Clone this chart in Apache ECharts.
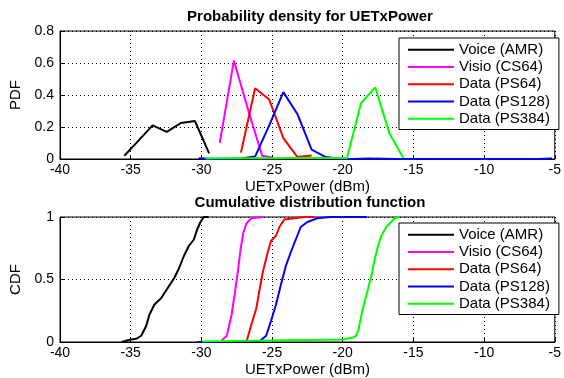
<!DOCTYPE html>
<html>
<head>
<meta charset="utf-8">
<script src="https://cdn.jsdelivr.net/npm/echarts@6/dist/echarts.min.js"></script>
<style>
html,body{margin:0;padding:0;background:#fff;}
#c{width:564px;height:378px;}
</style>
</head>
<body>
<div id="c"></div>
<script>
// ---------- data ----------
var seriesNames = ['Voice (AMR)', 'Visio (CS64)', 'Data (PS64)', 'Data (PS128)', 'Data (PS384)'];
var xTicks = [-40, -35, -30, -25, -20, -15, -10, -5];

// PDF curves
var pdfVoiceX = [-35.45, -34.45, -33.45, -32.45, -31.45, -30.45, -29.45];
var pdfVoiceY = [0.02, 0.115, 0.21, 0.17, 0.225, 0.237, 0.035];
var pdfVisioX = [-28.7, -27.7, -26.7, -25.7, -25.0];
var pdfVisioY = [0.10, 0.615, 0.31, 0.02, 0.01];
var pdfPs64X = [-27.2, -26.2, -25.2, -24.2, -23.2, -22.2];
var pdfPs64Y = [0.04, 0.442, 0.372, 0.13, 0.012, 0.022];
var pdfPs128X = [-30.2, -29.2, -28.2, -27.2, -26.2, -25.2, -24.2, -23.2, -22.2, -21.2, -20.2, -19.2, -18.2, -17.2, -16.2, -15.2, -14.2, -13.2, -12.2, -11.2, -10.2, -9.2, -8.2, -7.2, -6.2, -5.2];
var pdfPs128Y = [0.004, 0.0, 0.0, 0.003, 0.015, 0.21, 0.418, 0.28, 0.058, 0.012, 0.001, 0.0, 0.003, 0.002, 0.0, 0.0, 0.0, 0.0, 0.0, 0.0, 0.0, 0.0, 0.0, 0.0, 0.0, 0.003];
var pdfPs384X = [-29.7, -28.7, -27.7, -26.7, -25.7, -24.7, -23.7, -22.7, -21.7, -20.7, -19.7, -18.7, -17.7, -16.7, -15.7];
var pdfPs384Y = [0.003, 0.004, 0.004, 0.005, 0.005, 0.005, 0.006, 0.006, 0.006, 0.007, 0.006, 0.35, 0.448, 0.16, 0.004];

// CDF curves
var cdfVoiceX = [-35.65, -35.07, -34.6, -34.25, -33.9, -33.67, -33.32, -32.85, -32.39, -31.93, -31.58, -31.23, -30.88, -30.53, -30.3, -30.06, -29.83, -29.5];
var cdfVoiceY = [0, 0.018, 0.026, 0.05, 0.13, 0.22, 0.30, 0.35, 0.43, 0.51, 0.59, 0.69, 0.77, 0.82, 0.90, 0.96, 1.0, 1.0];
var cdfVisioX = [-28.56, -28.2, -27.86, -27.62, -27.39, -27.23, -27.04, -26.81, -26.46, -25.65];
var cdfVisioY = [0.013, 0.05, 0.22, 0.40, 0.59, 0.74, 0.87, 0.95, 0.99, 1.0];
var cdfPs64X = [-26.8, -26.75, -26.46, -26.11, -25.88, -25.65, -25.3, -25.07, -24.72, -24.48, -24.13, -23.43, -22.74, -22.0];
var cdfPs64Y = [0, 0.026, 0.14, 0.27, 0.42, 0.56, 0.72, 0.81, 0.85, 0.92, 0.98, 0.99, 1.0, 1.0];
var cdfPs128X = [-30.3, -28.0, -25.88, -25.42, -25.07, -24.72, -24.37, -24.02, -23.67, -23.32, -22.97, -22.5, -21.8, -20.88, -18.3];
var cdfPs128Y = [0.0, 0.003, 0.006, 0.05, 0.17, 0.30, 0.46, 0.61, 0.72, 0.82, 0.92, 0.96, 0.99, 1.0, 1.0];
var cdfPs384X = [-29.95, -25.0, -19.94, -19.13, -18.9, -18.67, -18.44, -18.2, -17.97, -17.74, -17.5, -17.27, -16.92, -16.57, -16.34, -16.0];
var cdfPs384Y = [0.005, 0.012, 0.02, 0.04, 0.09, 0.22, 0.33, 0.43, 0.53, 0.66, 0.77, 0.85, 0.92, 0.96, 0.99, 1.0];

var colors = ['#000000', '#ff00ff', '#ff0000', '#0000ff', '#00ff00'];

// ---------- build ----------
function pairs(xs, ys) { return xs.map(function (x, i) { return [x, ys[i]]; }); }
var pdfSets = [[pdfVoiceX, pdfVoiceY], [pdfVisioX, pdfVisioY], [pdfPs64X, pdfPs64Y], [pdfPs128X, pdfPs128Y], [pdfPs384X, pdfPs384Y]];
var cdfSets = [[cdfVoiceX, cdfVoiceY], [cdfVisioX, cdfVisioY], [cdfPs64X, cdfPs64Y], [cdfPs128X, cdfPs128Y], [cdfPs384X, cdfPs384Y]];

var FONT = "'Liberation Sans', Arial, sans-serif";
var series = [];
pdfSets.forEach(function (s, i) {
  series.push({
    type: 'line', name: seriesNames[i], xAxisIndex: 0, yAxisIndex: 0,
    data: pairs(s[0], s[1]), showSymbol: false, symbol: 'none',
    lineStyle: { color: colors[i], width: 2 }, itemStyle: { color: colors[i] },
    animation: false, z: 3 + i
  });
});
cdfSets.forEach(function (s, i) {
  series.push({
    type: 'line', name: seriesNames[i], xAxisIndex: 1, yAxisIndex: 1,
    data: pairs(s[0], s[1]), showSymbol: false, symbol: 'none',
    lineStyle: { color: colors[i], width: 2 }, itemStyle: { color: colors[i] },
    animation: false, z: 3 + i
  });
});

function xAxisDef(gi) {
  return {
    type: 'value', gridIndex: gi, min: xTicks[0], max: xTicks[xTicks.length - 1], interval: 5,
    name: 'UETxPower (dBm)', nameLocation: 'middle', nameGap: 20,
    nameTextStyle: { color: '#000', fontSize: 15, fontFamily: FONT },
    axisLine: { show: true, lineStyle: { color: '#000', width: 1 } },
    axisTick: { show: true, inside: true, length: 4, lineStyle: { color: '#000' } },
    axisLabel: { color: '#000', fontSize: 14, fontFamily: FONT, margin: 4, showMaxLabel: true, showMinLabel: true },
    splitLine: { show: true, lineStyle: { color: '#000', type: [1, 3], width: 1 } }
  };
}
function yAxisDef(gi, max, interval, name) {
  return {
    type: 'value', gridIndex: gi, min: 0, max: max, interval: interval,
    name: name, nameLocation: 'middle', nameGap: 37, nameRotate: 90,
    nameTextStyle: { color: '#000', fontSize: 15, fontFamily: FONT },
    axisLine: { show: true, lineStyle: { color: '#000', width: 1 } },
    axisTick: { show: true, inside: true, length: 4, lineStyle: { color: '#000' } },
    axisLabel: { color: '#000', fontSize: 14, fontFamily: FONT, margin: 6 },
    splitLine: { show: true, lineStyle: { color: '#000', type: [1, 3], width: 1 } }
  };
}
function legendDef(top) {
  return {
    data: seriesNames, orient: 'vertical', left: 399, top: top,
    icon: 'rect', itemWidth: 46, itemHeight: 2, itemGap: 0,
    padding: [3, 9, 2, 9], borderColor: '#000', borderWidth: 1, backgroundColor: '#fff',
    textStyle: { color: '#000', fontSize: 15, fontFamily: FONT, lineHeight: 17.3 },
    selectedMode: false
  };
}

var chart = echarts.init(document.getElementById('c'), null, { renderer: 'canvas' });
chart.setOption({
  animation: false,
  backgroundColor: '#fff',
  grid: [
    { left: 59, top: 31, width: 502, height: 128, show: true, borderColor: '#000', borderWidth: 1, backgroundColor: '#fff' },
    { left: 59, top: 217, width: 502, height: 128, show: true, borderColor: '#000', borderWidth: 1, backgroundColor: '#fff' }
  ],
  xAxis: [xAxisDef(0), xAxisDef(1)],
  yAxis: [yAxisDef(0, 0.8, 0.2, 'PDF'), yAxisDef(1, 1, 0.5, 'CDF')],
  legend: [legendDef(38), legendDef(223)],
  graphic: [
    { type: 'text', x: 310, y: 17, style: { text: 'Probability density for UETxPower', fill: '#000', font: 'bold 15px ' + FONT, align: 'center', verticalAlign: 'middle' } },
    { type: 'text', x: 310, y: 203, style: { text: 'Cumulative distribution function', fill: '#000', font: 'bold 15px ' + FONT, align: 'center', verticalAlign: 'middle' } }
  ],
  series: series
});
</script>
</body>
</html>
